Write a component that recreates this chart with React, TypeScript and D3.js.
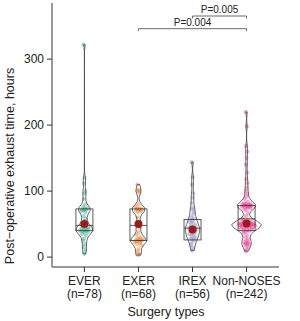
import * as d3 from 'd3';

const groups = ['EVER', 'EXER', 'IREX', 'Non-NOSES'];
const counts = [78, 68, 56, 242];
const colors = ['#1b9e77', '#d95f02', '#7570b3', '#e7298a'];

// hours
const everValues = [
  322, 120, 112, 100, 96,
  88, 80, 76, 74, 73, 72, 72, 71, 70, 68,
  62, 58, 55,
  50, 48, 46, 45, 44, 43, 42, 41, 40, 40, 39, 38, 37, 35, 33,
  28, 25, 20, 15, 10, 5,
];
const exerValues = [
  110, 102, 100, 98,
  80, 76, 74, 73, 72, 72, 71, 70, 68,
  60, 52, 48, 45,
  38, 34, 30, 28, 27, 26, 25, 25, 24, 23, 22, 20, 18,
  12, 8, 5, 3,
];
const irexValues = [
  144, 121, 110, 97,
  90, 82, 75, 72, 68, 64, 60, 58, 56,
  54, 52, 50, 48, 46, 45, 44, 43, 42, 41, 40, 38, 36, 35, 34, 32, 30, 28, 27, 26,
  22, 18, 14, 10,
];
const nonNosesValues = [
  220, 198, 168, 160, 150, 140, 128, 118, 112, 105, 100, 96, 92, 88,
  84, 82, 81, 80, 80, 79, 79, 78, 78, 78, 77, 77, 76, 76, 75, 74, 73, 71,
  67, 62,
  58, 56, 55, 54, 53, 53, 52, 52, 51, 51, 50, 50, 50, 50, 49, 49, 49, 48, 48, 48,
  47, 47, 46, 46, 45, 45, 44, 44, 43, 42, 41, 40, 39, 38, 36,
  33, 30, 27, 25, 23, 22, 21, 20, 19, 18, 15, 12, 9,
];
const groupValues = [everValues, exerValues, irexValues, nonNosesValues];

// box summary
const q1s = [40, 25, 26, 40];
const medians = [48, 48, 44, 58];
const q3s = [73, 73, 57, 78];
const means = [50, 50, 42, 51];

const yTicks = [0, 100, 200, 300];

const comparisons = [
  { from: 'IREX', to: 'Non-NOSES', label: 'P=0.005' },
  { from: 'EXER', to: 'Non-NOSES', label: 'P=0.004' },
];

const font = '"Liberation Sans", Arial, sans-serif';
const bw = 5;

function kde(values: number[], grid: number[]) {
  return grid.map((g) => {
    const s = d3.sum(values, (v) => Math.exp(-0.5 * ((g - v) / bw) ** 2));
    return s / (values.length * bw * Math.sqrt(2 * Math.PI));
  });
}

export default function App() {
  const width = 300;
  const height = 321;
  const x = d3.scalePoint<string>().domain(groups).range([52, 279]).padding(0.6);
  const y = d3.scaleLinear().domain([-15, 385]).range([267, 3]);
  const maxHalf = d3.scaleSqrt().domain([0, 242]).range([0, 15]);
  const boxW = 17;

  const violins = groups.map((g, i) => {
    const vals = groupValues[i];
    const [lo, hi] = d3.extent(vals) as [number, number];
    const n = Math.max(2, Math.round((hi - lo) / 5));
    const grid = d3.range(0, n + 1).map((k) => lo + ((hi - lo) * k) / n);
    const dens = kde(vals, grid);
    const dmax = d3.max(dens) || 1;
    const w = d3.scaleLinear().domain([0, dmax]).range([0, maxHalf(counts[i])]);
    const pts = grid.map((v, k) => ({ v, w: w(dens[k]) }));
    const cx = x(g) || 0;
    const area = d3
      .area<{ v: number; w: number }>()
      .x0((d) => cx - d.w)
      .x1((d) => cx + d.w)
      .y((d) => y(d.v))
      .curve(d3.curveLinear);
    const halfAt = (v: number) => w(kde(vals, [v])[0]);
    return { cx, path: area(pts) || '', halfAt };
  });

  return (
    <svg width={width} height={height} style={{ position: 'absolute', left: 0, top: 0, fontFamily: font }}>
      {/* y axis */}
      <line x1={52} x2={52} y1={3} y2={267} stroke="#333" strokeWidth={1} />
      {yTicks.map((t) => (
        <g key={t}>
          <line x1={47} x2={52} y1={y(t)} y2={y(t)} stroke="#333" />
          <text x={44} y={y(t)} dy="0.35em" textAnchor="end" fontSize={12} fill="#222">
            {t}
          </text>
        </g>
      ))}
      <text transform={`translate(14,166) rotate(-90)`} textAnchor="middle" fontSize={12.5} fill="#222">
        Post−operative exhaust time, hours
      </text>

      {/* x axis */}
      <line x1={52} x2={279} y1={267} y2={267} stroke="#333" />
      {groups.map((g, i) => (
        <g key={g}>
          <line x1={x(g)} x2={x(g)} y1={267} y2={272} stroke="#333" />
          <text x={x(g)} y={285} textAnchor="middle" fontSize={12} fill="#222">
            {g}
          </text>
          <text x={x(g)} y={298} textAnchor="middle" fontSize={12} fill="#222">
            (n={counts[i]})
          </text>
        </g>
      ))}
      <text x={166} y={316} textAnchor="middle" fontSize={12.5} fill="#222">
        Surgery types
      </text>

      {/* dots */}
      {groups.map((g, i) =>
        groupValues[i].map((v, k) => {
          const j = (((k * 0.618034) % 1) - 0.5) * 2 * Math.max(1, violins[i].halfAt(v) * 0.6);
          return (
            <circle key={`${g}-${k}`} cx={violins[i].cx + j} cy={y(v)} r={2.1} fill={colors[i]} fillOpacity={0.38} />
          );
        })
      )}

      {/* violins + boxes */}
      {groups.map((g, i) => {
        const cx = violins[i].cx;
        return (
          <g key={g}>
            <path d={violins[i].path} fill="none" stroke="#444" strokeWidth={0.8} />
            <rect
              x={cx - boxW / 2}
              y={y(q3s[i])}
              width={boxW}
              height={y(q1s[i]) - y(q3s[i])}
              fill="none"
              stroke="#333"
              strokeWidth={0.8}
            />
            <line x1={cx - boxW / 2} x2={cx + boxW / 2} y1={y(medians[i])} y2={y(medians[i])} stroke="#333" strokeWidth={0.8} />
            <circle cx={cx} cy={y(means[i])} r={4} fill="#9b1c1f" />
          </g>
        );
      })}

      {/* significance brackets */}
      {comparisons.map((c, i) => {
        const ly = 16 + i * 12.7;
        const x1 = x(c.from) || 0;
        const x2 = x(c.to) || 0;
        return (
          <g key={c.label}>
            <path d={`M${x1},${ly + 2.5}V${ly}H${x2}V${ly + 2.5}`} fill="none" stroke="#444" strokeWidth={0.8} />
            <text x={(x1 + x2) / 2} y={ly - 3} textAnchor="middle" fontSize={10} fill="#222">
              {c.label}
            </text>
          </g>
        );
      })}
    </svg>
  );
}
